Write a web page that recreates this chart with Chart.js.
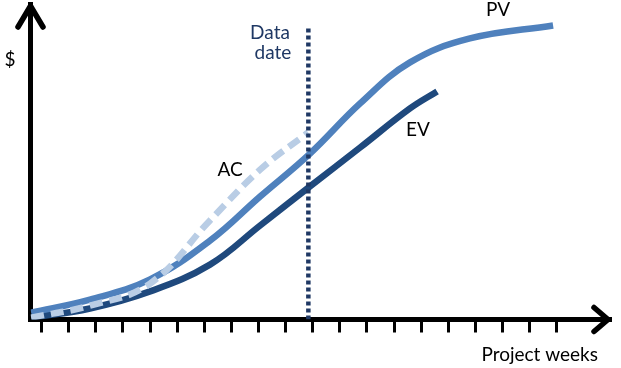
<!DOCTYPE html>
<html>
<head>
<meta charset="utf-8">
<title>Earned value S-curves</title>
<script src="https://cdn.jsdelivr.net/npm/chart.js@4/dist/chart.umd.min.js"></script>
<style>
  html, body { margin: 0; padding: 0; background: #fff; }
  #wrap { width: 621px; height: 368px; }
</style>
</head>
<body>
<div id="wrap"><canvas id="evChart" width="621" height="368"></canvas></div>
<script>
// week ticks along the x axis
const weekTicks = [1, 2, 3, 4, 5, 6, 7, 8, 9, 10, 11, 12, 13, 14, 15, 16, 17, 18, 19, 20];

// planned value
const pvWeeks = [0.61, 2.78, 5.0, 7.21, 9.06, 10.9, 12.75, 14.59, 16.8, 19.87];
const pvValues = [2.2, 6.3, 12.7, 25.0, 39.0, 52.6, 68.5, 81.5, 89.1, 93.2];

// earned value
const evWeeks = [0.61, 2.78, 5.0, 7.21, 9.06, 10.9, 12.75, 14.59, 15.59];
const evValues = [0.6, 3.5, 8.9, 17.4, 29.8, 42.2, 54.5, 66.9, 72.3];

// actual cost
const acWeeks = [0.61, 2.78, 5.0, 7.21, 9.06, 10.83];
const acValues = [0.6, 4.4, 11.4, 31.4, 47.5, 59.3];

// data date marker
const dataDateWeek = 10.84;
const dataDateRange = [0, 92.4];

const pts = (xs, ys) => xs.map((x, i) => ({ x, y: ys[i] }));

const FONT = "19px Lato, 'Open Sans', sans-serif";

const decorations = {
  id: "decorations",
  afterDraw(chart) {
    const { ctx, chartArea: a } = chart;
    ctx.save();
    // arrow heads on both axes
    ctx.strokeStyle = "#000";
    ctx.lineWidth = 5.5;
    ctx.lineCap = "round";
    ctx.lineJoin = "round";
    ctx.beginPath();
    ctx.moveTo(a.left - 12.5, a.top + 23);
    ctx.lineTo(a.left, a.top + 2);
    ctx.lineTo(a.left + 12.5, a.top + 23);
    ctx.stroke();
    ctx.beginPath();
    ctx.moveTo(a.right - 16, a.bottom - 12);
    ctx.lineTo(a.right - 2, a.bottom);
    ctx.lineTo(a.right - 16, a.bottom + 12);
    ctx.stroke();

    // labels
    ctx.font = FONT;
    ctx.textBaseline = "middle";
    ctx.textAlign = "center";
    ctx.fillStyle = "#000";
    ctx.fillText("$", 10, 60);
    ctx.fillText("AC", 230, 170);
    ctx.fillText("EV", 418, 130);
    ctx.fillText("PV", 498, 10);
    ctx.fillStyle = "#1F3864";
    ctx.fillText("Data", 270, 33);
    ctx.fillText("date", 273, 53);
    ctx.fillStyle = "#000";
    ctx.textAlign = "right";
    ctx.fillText("Project weeks", 598, 355);
    ctx.restore();
  },
};

new Chart(document.getElementById("evChart"), {
  type: "line",
  data: {
    datasets: [
      {
        label: "Data date",
        data: pts([dataDateWeek, dataDateWeek], dataDateRange),
        borderColor: "#1F3864",
        borderWidth: 4.5,
        borderDash: [4, 3],
        tension: 0,
        order: 0,
      },
      {
        label: "AC",
        data: pts(acWeeks, acValues),
        borderColor: "#B9CDE5",
        borderWidth: 6.5,
        borderDash: [13, 7],
        order: 1,
      },
      {
        label: "PV",
        data: pts(pvWeeks, pvValues),
        borderColor: "#4F81BD",
        borderWidth: 6.5,
        order: 2,
      },
      {
        label: "EV",
        data: pts(evWeeks, evValues),
        borderColor: "#1F497D",
        borderWidth: 6.5,
        order: 3,
      },
    ],
  },
  options: {
    responsive: false,
    animation: false,
    devicePixelRatio: 1,
    layout: { padding: { left: 30.5, right: 11, top: 4, bottom: 35.5 } },
    elements: { point: { radius: 0 }, line: { tension: 0.4 } },
    plugins: { legend: { display: false }, tooltip: { enabled: false } },
    scales: {
      x: {
        type: "linear",
        min: 0.587,
        max: 21.97,
        afterBuildTicks: (scale) => { scale.ticks = weekTicks.map((v) => ({ value: v })); },
        ticks: { display: false },
        grid: { drawOnChartArea: false, drawTicks: true, tickLength: 13, lineWidth: 3, color: "#000" },
        border: { display: true, width: 5, color: "#000" },
      },
      y: {
        type: "linear",
        min: 0,
        max: 100,
        ticks: { display: false },
        grid: { drawOnChartArea: false, drawTicks: false, color: "#000", lineWidth: 5 },
        border: { display: true, width: 5, color: "#000" },
      },
    },
  },
  plugins: [decorations],
});
</script>
</body>
</html>
